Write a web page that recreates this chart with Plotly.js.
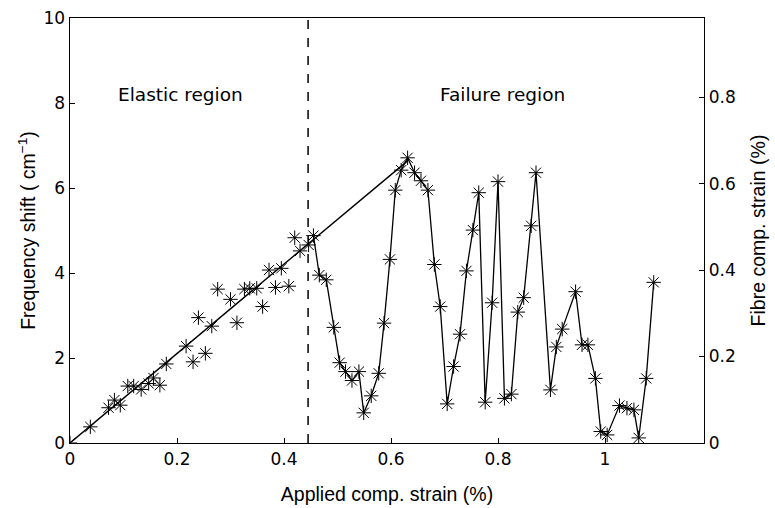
<!DOCTYPE html>
<html>
<head>
<meta charset="utf-8">
<script src="https://cdn.plot.ly/plotly-3.0.1.min.js"></script>
<style>html,body{margin:0;padding:0;background:#fff;}#chart{width:775px;height:508px;}</style>
</head>
<body>
<div id="chart"></div>
<script>
// Elastic region measurements (unconnected)
const elasticX = [0, 0.038, 0.072, 0.083, 0.094, 0.108, 0.119, 0.133, 0.147, 0.156, 0.168, 0.18, 0.217, 0.23, 0.24, 0.253, 0.265, 0.276, 0.30, 0.312, 0.326, 0.336, 0.349, 0.36, 0.372, 0.384, 0.395, 0.409, 0.42, 0.43, 0.446];
const elasticY = [0, 0.38, 0.83, 1.01, 0.89, 1.34, 1.34, 1.26, 1.40, 1.53, 1.36, 1.86, 2.28, 1.91, 2.95, 2.11, 2.75, 3.62, 3.38, 2.83, 3.62, 3.64, 3.64, 3.21, 4.07, 3.66, 4.11, 3.69, 4.83, 4.52, 4.66];
// Linear fit line of elastic region
const fitX = [0, 0.632];
const fitY = [0, 6.65];
// Failure region measurements (connected)
const failX = [0.455, 0.466, 0.479, 0.493, 0.504, 0.515, 0.527, 0.540, 0.549, 0.563, 0.577, 0.587, 0.598, 0.608, 0.619, 0.631, 0.644, 0.656, 0.669, 0.681, 0.692, 0.705, 0.717, 0.729, 0.741, 0.753, 0.764, 0.776, 0.789, 0.800, 0.812, 0.825, 0.837, 0.848, 0.862, 0.871, 0.898, 0.909, 0.920, 0.945, 0.957, 0.968, 0.982, 0.992, 1.004, 1.027, 1.041, 1.054, 1.063, 1.077, 1.091];
const failY = [4.88, 3.95, 3.84, 2.72, 1.89, 1.68, 1.47, 1.68, 0.71, 1.11, 1.64, 2.82, 4.32, 5.95, 6.42, 6.71, 6.36, 6.17, 5.95, 4.20, 3.21, 0.92, 1.80, 2.56, 4.05, 5.01, 5.89, 0.96, 3.30, 6.15, 1.05, 1.15, 3.08, 3.42, 5.11, 6.36, 1.25, 2.26, 2.68, 3.56, 2.31, 2.31, 1.52, 0.27, 0.19, 0.88, 0.82, 0.78, 0.12, 1.52, 3.78];
// Axis ticks and labels
const xTicks = [0, 0.2, 0.4, 0.6, 0.8, 1];
const xTickText = ["0", "0.2", "0.4", "0.6", "0.8", "1"];
const yTicks = [0, 2, 4, 6, 8, 10];
const yTickText = ["0", "2", "4", "6", "8", "10"];
const y2Ticks = [0, 0.2, 0.4, 0.6, 0.8];
const y2TickText = ["0", "0.2", "0.4", "0.6", "0.8"];
const boundaryX = 0.445;
const regionLabels = ["Elastic region", "Failure region"];
const regionLabelX = [0.207, 0.808];
const regionLabelY = 8.2;

const TF = "Liberation Sans, Arial, sans-serif";
const LF = "DejaVu Sans, sans-serif";
const marker = {symbol: "asterisk-open", size: 12, color: "#000", line: {color: "#000", width: 1}};
const tickFont = {family: LF, size: 17, color: "#000"};
const titleFont = {family: TF, size: 19.5, color: "#000"};

const traces = [
  {x: fitX, y: fitY, mode: "lines", line: {color: "#000", width: 1.4}, hoverinfo: "skip", showlegend: false},
  {x: elasticX, y: elasticY, mode: "markers", marker: marker, showlegend: false},
  {x: failX, y: failY, mode: "lines+markers", line: {color: "#000", width: 1.3}, marker: marker, showlegend: false},
  {x: [0], y: [0], yaxis: "y2", mode: "markers", marker: {opacity: 0}, hoverinfo: "skip", showlegend: false}
];

const layout = {
  width: 775, height: 508,
  margin: {l: 70, r: 71, t: 18, b: 65},
  paper_bgcolor: "#fff", plot_bgcolor: "#fff",
  font: {family: TF, color: "#000", size: 15},
  showlegend: false,
  xaxis: {
    range: [0, 1.185], tickvals: xTicks, ticktext: xTickText,
    ticks: "inside", ticklen: 5, tickwidth: 1, tickcolor: "#000",
    showline: true, linecolor: "#000", linewidth: 1.4, mirror: true,
    showgrid: false, zeroline: false, automargin: false,
    tickfont: tickFont,
    title: {text: "Applied comp. strain (%)", font: titleFont, standoff: 19}
  },
  yaxis: {
    range: [0, 10], tickvals: yTicks, ticktext: yTickText,
    ticks: "inside", ticklen: 5, tickwidth: 1, tickcolor: "#000",
    showline: true, linecolor: "#000", linewidth: 1.4, mirror: false,
    showgrid: false, zeroline: false, automargin: false,
    tickfont: tickFont,
    title: {text: "Frequency shift ( cm<sup>−1</sup>)", font: titleFont, standoff: 2}
  },
  yaxis2: {
    overlaying: "y", side: "right", anchor: "x",
    range: [0, 0.983], tickvals: y2Ticks, ticktext: y2TickText,
    ticks: "inside", ticklen: 5, tickwidth: 1, tickcolor: "#000",
    showline: true, linecolor: "#000", linewidth: 1.4,
    showgrid: false, zeroline: false, automargin: false,
    tickfont: tickFont,
    title: {text: "Fibre comp. strain (%)", font: titleFont, standoff: 16}
  },
  shapes: [
    {type: "line", xref: "x", yref: "y", x0: boundaryX, x1: boundaryX, y0: 0, y1: 10,
     line: {color: "#000", width: 1.5, dash: "dash"}}
  ],
  annotations: regionLabels.map((t, i) => ({
    x: regionLabelX[i], y: regionLabelY, xref: "x", yref: "y", text: t, showarrow: false,
    font: {family: LF, size: 18.5, color: "#000"}
  }))
};

Plotly.newPlot("chart", traces, layout, {displayModeBar: false, staticPlot: true});
</script>
</body>
</html>
